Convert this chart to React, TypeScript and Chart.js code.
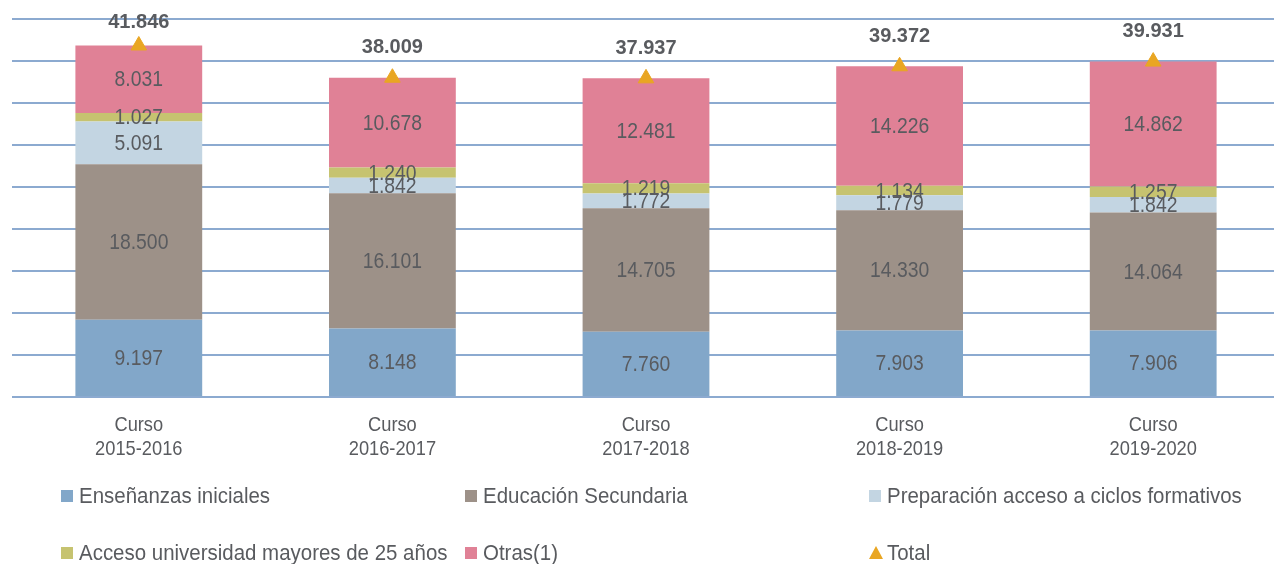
import React, { useEffect, useRef } from 'react';
import { Chart, registerables } from 'chart.js';

Chart.register(...registerables);

const categories: string[][] = [
  ['Curso', '2015-2016'],
  ['Curso', '2016-2017'],
  ['Curso', '2017-2018'],
  ['Curso', '2018-2019'],
  ['Curso', '2019-2020'],
];
const ensenanzas = [9197, 8148, 7760, 7903, 7906];
const educacion = [18500, 16101, 14705, 14330, 14064];
const preparacion = [5091, 1842, 1772, 1779, 1842];
const acceso = [1027, 1240, 1219, 1134, 1257];
const otras = [8031, 10678, 12481, 14226, 14862];
const totals = [41846, 38009, 37937, 39372, 39931];
const yMax = 45000;
const yStep = 5000;

const seriesNames = [
  'Enseñanzas iniciales',
  'Educación Secundaria',
  'Preparación acceso a ciclos formativos',
  'Acceso universidad mayores de 25 años',
  'Otras(1)',
  'Total',
];
const seriesColors = ['#82a7c9', '#9d9188', '#c3d5e2', '#c6c370', '#e08196', '#e9a623'];

const FONT = "'Liberation Sans', Arial, sans-serif";
const TEXT = '#595b5f';

const fmt = (v: number) => String(Math.round(v)).replace(/\B(?=(\d{3})+(?!\d))/g, '.');

// draw text compressed horizontally to imitate the condensed face of the original
const squeeze = (ctx: CanvasRenderingContext2D, t: string, x: number, y: number, f: number) => {
  const w = ctx.measureText(t).width;
  ctx.fillText(t, x, y, w * f);
};

const labelPlugin = {
  id: 'valueLabels',
  afterDatasetsDraw(chart: any) {
    const ctx = chart.ctx as CanvasRenderingContext2D;
    ctx.save();
    ctx.textAlign = 'center';
    ctx.textBaseline = 'middle';
    ctx.fillStyle = TEXT;
    ctx.font = `22px ${FONT}`;
    for (let i = 0; i < 5; i++) {
      const meta = chart.getDatasetMeta(i);
      meta.data.forEach((el: any, j: number) => {
        const p = el.getProps(['x', 'y', 'base'], true);
        const v = chart.data.datasets[i].data[j] as number;
        squeeze(ctx, fmt(v), p.x, (p.y + p.base) / 2 + 1, 0.88);
      });
    }
    const tm = chart.getDatasetMeta(5);
    ctx.font = `bold 20px ${FONT}`;
    tm.data.forEach((el: any, j: number) => {
      const p = el.getProps(['x', 'y'], true);
      const y = Math.max(p.y - 30, 22);
      ctx.fillText(fmt(totals[j]), p.x, y);
    });
    ctx.restore();
  },
};

const axisLegendPlugin = {
  id: 'axisAndLegend',
  afterDraw(chart: any) {
    const ctx = chart.ctx as CanvasRenderingContext2D;
    const xs = chart.scales.x;
    ctx.save();
    ctx.fillStyle = TEXT;
    ctx.textBaseline = 'middle';
    ctx.textAlign = 'center';
    ctx.font = `21px ${FONT}`;
    categories.forEach((lines, j) => {
      const x = xs.getPixelForValue(j);
      lines.forEach((ln, k) => squeeze(ctx, ln, x, 425 + k * 24, 0.87));
    });

    const cols = [61, 465, 869];
    const rows = [496, 553];
    ctx.font = `22px ${FONT}`;
    ctx.textAlign = 'left';
    seriesNames.forEach((name, k) => {
      const x = cols[k % 3];
      const y = rows[Math.floor(k / 3)];
      ctx.fillStyle = seriesColors[k];
      if (k === 5) {
        ctx.beginPath();
        ctx.moveTo(x + 7, y - 7);
        ctx.lineTo(x + 14, y + 6);
        ctx.lineTo(x, y + 6);
        ctx.closePath();
        ctx.fill();
      } else {
        ctx.fillRect(x, y - 6, 12, 12);
      }
      ctx.fillStyle = TEXT;
      squeeze(ctx, name, x + 18, y + 1, 0.93);
    });
    ctx.restore();
  },
};

export default function App() {
  const ref = useRef<HTMLCanvasElement | null>(null);
  useEffect(() => {
    if (!ref.current) return;
    const bar = (label: string, data: number[], color: string) => ({
      type: 'bar' as const,
      label,
      data,
      backgroundColor: color,
      borderWidth: 0,
      stack: 'a',
      order: 1,
      barPercentage: 0.5,
      categoryPercentage: 1,
    });
    const chart = new Chart(ref.current, {
      type: 'bar',
      data: {
        labels: categories,
        datasets: [
          bar(seriesNames[0], ensenanzas, seriesColors[0]),
          bar(seriesNames[1], educacion, seriesColors[1]),
          bar(seriesNames[2], preparacion, seriesColors[2]),
          bar(seriesNames[3], acceso, seriesColors[3]),
          bar(seriesNames[4], otras, seriesColors[4]),
          {
            type: 'line' as const,
            label: seriesNames[5],
            data: totals,
            showLine: false,
            stack: 'total',
            order: 0,
            pointStyle: 'triangle',
            pointRadius: 9,
            backgroundColor: seriesColors[5],
            borderColor: seriesColors[5],
            borderWidth: 1,
          } as any,
        ],
      },
      options: {
        responsive: false,
        animation: false,
        layout: { padding: { top: 19, left: 12, right: 7, bottom: 0 } },
        plugins: { legend: { display: false }, tooltip: { enabled: false } },
        scales: {
          x: {
            stacked: true,
            grid: { display: false },
            border: { display: false },
            ticks: { display: false },
            afterFit: (s: any) => { s.height = 167; },
          },
          y: {
            stacked: true,
            min: 0,
            max: yMax,
            ticks: { display: false, stepSize: yStep },
            grid: { color: '#8caad0', lineWidth: 2, drawTicks: false },
            border: { display: false },
            afterFit: (s: any) => { s.width = 0; },
          },
        },
      },
      plugins: [labelPlugin, axisLegendPlugin],
    });
    return () => chart.destroy();
  }, []);
  return (
    <div style={{ position: 'absolute', left: 0, top: 0, width: 1274, height: 564, overflow: 'hidden', background: '#fff' }}>
      <canvas ref={ref} width={1290} height={564} style={{ display: 'block' }} />
    </div>
  );
}
